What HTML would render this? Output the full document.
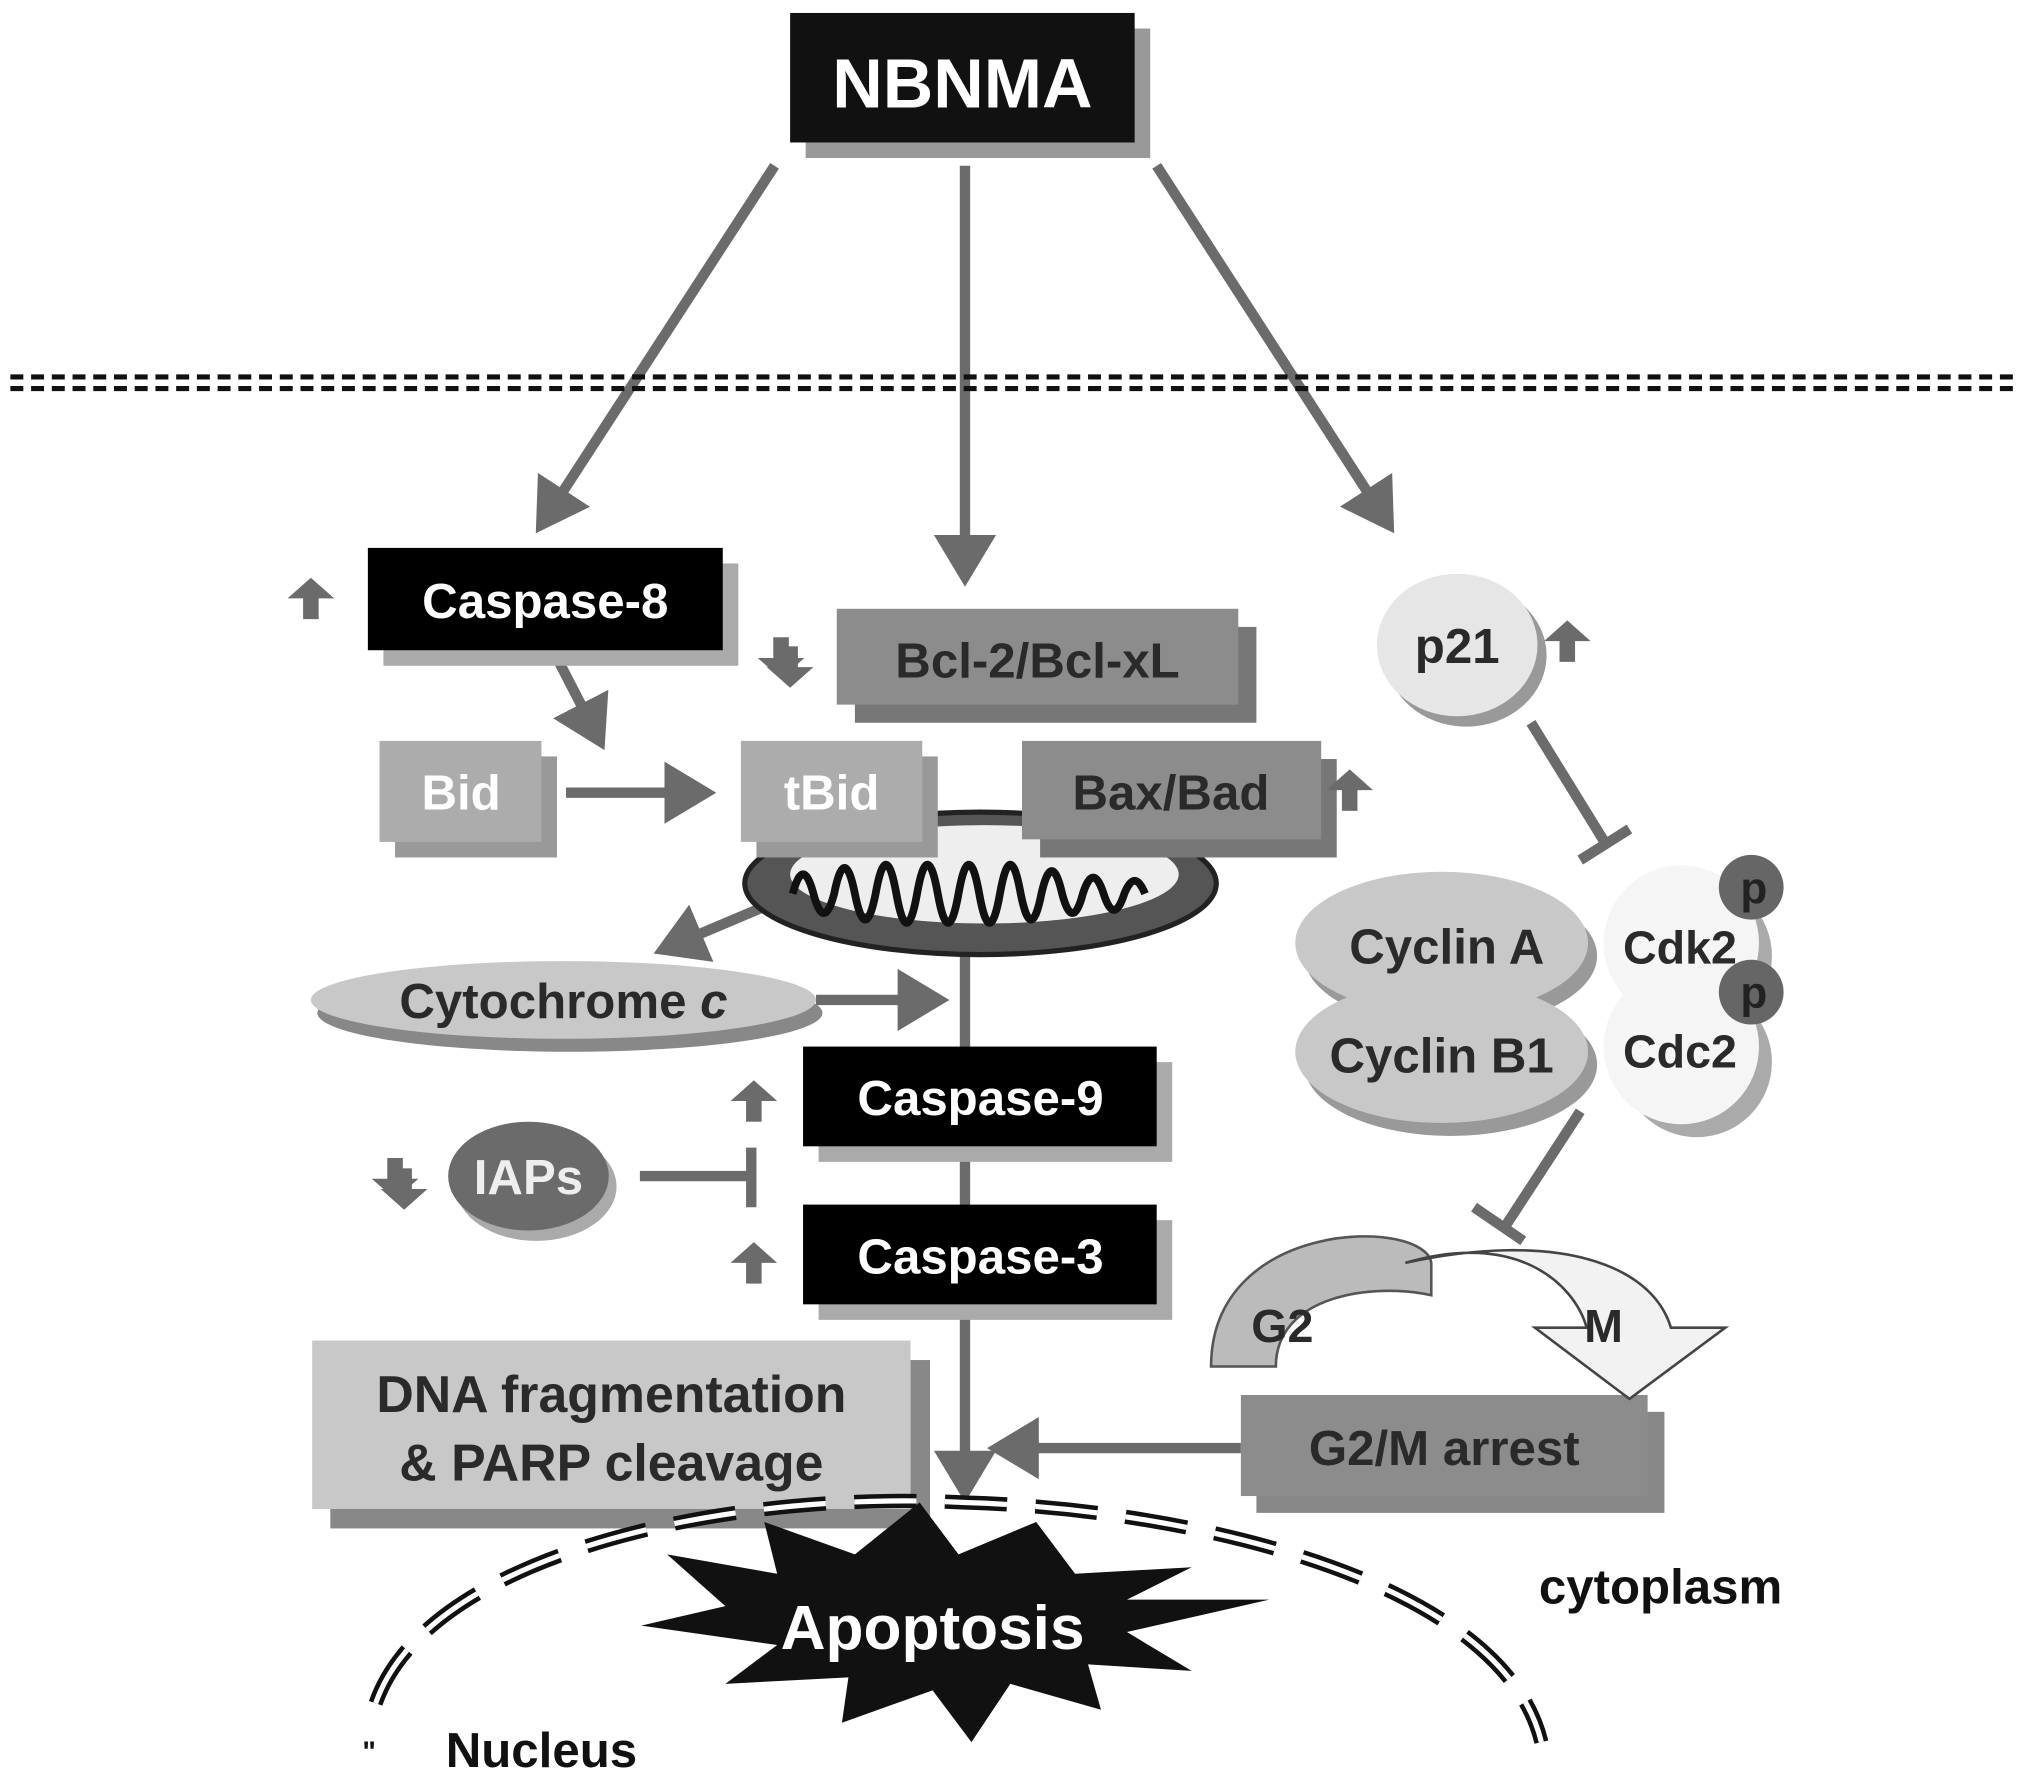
<!DOCTYPE html>
<html><head><meta charset="utf-8"><style>html,body{margin:0;padding:0;background:#fff}svg{display:block}</style></head>
<body>
<svg width="2031" height="1781" viewBox="0 0 1568 1375" xmlns="http://www.w3.org/2000/svg" font-family="Liberation Sans, Arial, sans-serif" font-weight="bold">
<defs>
<marker id="ah" markerWidth="6" markerHeight="6" refX="4" refY="3" orient="auto" markerUnits="strokeWidth"><path d="M0,0 L5,3 L0,6 z" fill="#6b6b6b"/></marker>
<g id="up"><rect x="-6" y="-2" width="12" height="18" fill="#6b6b6b"/><path d="M-18,0 L0,-16 L18,0 z" fill="#6b6b6b"/></g>
</defs>
<rect width="1568" height="1375" fill="#fff"/>
<!-- NBNMA -->
<rect x="622" y="22" width="266" height="100" fill="#999"/>
<rect x="610" y="10" width="266" height="100" fill="#111"/>
<text x="743" y="83" fill="#fff" font-size="54" text-anchor="middle">NBNMA</text>
<!-- main arrows -->
<g stroke="#6b6b6b" stroke-width="8" fill="none" marker-end="url(#ah)">
<line x1="598" y1="128" x2="418" y2="405"/>
<line x1="745" y1="128" x2="745" y2="445"/>
<line x1="893" y1="128" x2="1072" y2="405"/>
<line x1="430" y1="508" x2="463" y2="572"/>
<line x1="437" y1="612" x2="545" y2="612"/>
<line x1="590" y1="700" x2="512" y2="733"/>
<line x1="630" y1="772" x2="725" y2="772"/>
<line x1="745" y1="735" x2="745" y2="1152"/>
<line x1="958" y1="1118" x2="770" y2="1118"/>
</g>
<!-- dashed membrane -->
<g stroke="#111" stroke-width="4" stroke-dasharray="10,6">
<line x1="8" y1="291" x2="1560" y2="291"/>
<line x1="8" y1="300" x2="1560" y2="300"/>
</g>
<!-- Caspase-8 -->
<rect x="296" y="435" width="274" height="79" fill="#aaa"/>
<rect x="284" y="423" width="274" height="79" fill="#000"/>
<text x="421" y="477" fill="#fff" font-size="38" text-anchor="middle">Caspase-8</text>
<use href="#up" x="240" y="462"/>
<!-- down arrow -->
<g transform="translate(610,515) rotate(180)"><use href="#up" fill="#999"/></g>
<g transform="translate(603,508) rotate(180)"><use href="#up"/></g>
<!-- Bcl-2 -->
<rect x="660" y="484" width="310" height="74" fill="#777"/>
<rect x="646" y="470" width="310" height="74" fill="#8c8c8c"/>
<text x="801" y="523" fill="#2a2a2a" font-size="38" text-anchor="middle">Bcl-2/Bcl-xL</text>
<!-- Bid, tBid -->
<rect x="305" y="584" width="125" height="78" fill="#999"/>
<rect x="293" y="572" width="125" height="78" fill="#acacac"/>
<text x="356" y="625" fill="#fff" font-size="38" text-anchor="middle">Bid</text>
<!-- mitochondrion -->
<ellipse cx="757" cy="682" rx="182" ry="55" fill="#555" stroke="#222" stroke-width="4"/>
<ellipse cx="760" cy="675" rx="150" ry="38" fill="#eee"/>
<path d="M612,690 q8,-30 16,0 q8,30 16,0 q8,-40 16,0 q8,40 16,0 q8,-45 16,0 q8,45 16,0 q8,-45 16,0 q8,45 16,0 q8,-45 16,0 q8,45 16,0 q8,-45 16,0 q8,40 16,0 q8,-35 16,0 q8,30 16,0 q8,-25 16,0 q8,25 16,0 q8,-20 16,0" fill="none" stroke="#111" stroke-width="6"/>
<rect x="584" y="584" width="140" height="78" fill="#999"/>
<rect x="572" y="572" width="140" height="78" fill="#acacac"/>
<text x="642" y="625" fill="#fff" font-size="38" text-anchor="middle">tBid</text>
<rect x="803" y="586" width="229" height="76" fill="#777"/>
<rect x="789" y="572" width="231" height="76" fill="#8c8c8c"/>
<text x="904" y="625" fill="#2a2a2a" font-size="38" text-anchor="middle">Bax/Bad</text>
<use href="#up" x="1042" y="610"/>
<!-- Cytochrome c -->
<ellipse cx="440" cy="782" rx="195" ry="30" fill="#888"/>
<ellipse cx="435" cy="772" rx="195" ry="30" fill="#c8c8c8"/>
<text x="435" y="786" fill="#2a2a2a" font-size="38" text-anchor="middle">Cytochrome <tspan font-style="italic">c</tspan></text>
<!-- Caspase-9/3 -->
<rect x="632" y="820" width="273" height="77" fill="#aaa"/>
<rect x="620" y="808" width="273" height="77" fill="#000"/>
<text x="757" y="861" fill="#fff" font-size="38" text-anchor="middle">Caspase-9</text>
<use href="#up" x="582" y="850"/>
<rect x="632" y="942" width="273" height="77" fill="#aaa"/>
<rect x="620" y="930" width="273" height="77" fill="#000"/>
<text x="757" y="983" fill="#fff" font-size="38" text-anchor="middle">Caspase-3</text>
<use href="#up" x="582" y="975"/>
<!-- IAPs -->
<ellipse cx="414" cy="916" rx="62" ry="42" fill="#aaa"/>
<ellipse cx="408" cy="908" rx="62" ry="42" fill="#6b6b6b"/>
<text x="408" y="922" fill="#eee" font-size="38" text-anchor="middle">IAPs</text>
<g transform="translate(312,918) rotate(180)"><use href="#up" fill="#999"/></g>
<g transform="translate(305,910) rotate(180)"><use href="#up"/></g>
<g stroke="#6b6b6b" stroke-width="8"><line x1="494" y1="908" x2="580" y2="908"/><line x1="580" y1="886" x2="580" y2="932"/></g>
<!-- DNA -->
<rect x="255" y="1050" width="463" height="130" fill="#888"/>
<rect x="241" y="1035" width="462" height="130" fill="#c8c8c8"/>
<text x="472" y="1090" fill="#2a2a2a" font-size="40" text-anchor="middle">DNA fragmentation</text>
<text x="472" y="1143" fill="#2a2a2a" font-size="40" text-anchor="middle">&amp; PARP cleavage</text>
<!-- G2/M arrest -->
<rect x="970" y="1090" width="315" height="78" fill="#888"/>
<rect x="958" y="1077" width="314" height="78" fill="#8c8c8c"/>
<text x="1115" y="1131" fill="#2a2a2a" font-size="38" text-anchor="middle">G2/M arrest</text>
<!-- p21 -->
<ellipse cx="1132" cy="506" rx="62" ry="55" fill="#999"/>
<ellipse cx="1125" cy="498" rx="62" ry="55" fill="#e6e6e6"/>
<text x="1125" y="512" fill="#2a2a2a" font-size="38" text-anchor="middle">p21</text>
<use href="#up" x="1210" y="495"/>
<g stroke="#6b6b6b" stroke-width="8"><line x1="1182" y1="558" x2="1240" y2="652"/><line x1="1220" y1="664" x2="1258" y2="640"/></g>
<!-- cyclins -->
<ellipse cx="1310" cy="738" rx="58" ry="58" fill="#aaa"/>
<circle cx="1298" cy="728" r="60" fill="#f5f5f5"/>
<ellipse cx="1310" cy="820" rx="58" ry="58" fill="#aaa"/>
<circle cx="1298" cy="808" r="60" fill="#f5f5f5"/>
<ellipse cx="1120" cy="738" rx="113" ry="55" fill="#999"/>
<ellipse cx="1113" cy="728" rx="113" ry="55" fill="#c8c8c8"/>
<ellipse cx="1120" cy="822" rx="113" ry="55" fill="#999"/>
<ellipse cx="1113" cy="812" rx="113" ry="55" fill="#c8c8c8"/>
<text x="1117" y="744" fill="#2a2a2a" font-size="38" text-anchor="middle">Cyclin A</text>
<text x="1113" y="828" fill="#2a2a2a" font-size="38" text-anchor="middle">Cyclin B1</text>
<text x="1297" y="744" fill="#2a2a2a" font-size="36" text-anchor="middle">Cdk2</text>
<text x="1297" y="824" fill="#2a2a2a" font-size="36" text-anchor="middle">Cdc2</text>
<circle cx="1352" cy="685" r="25" fill="#666"/><text x="1354" y="697" fill="#222" font-size="34" text-anchor="middle">p</text>
<circle cx="1352" cy="766" r="25" fill="#666"/><text x="1354" y="778" fill="#222" font-size="34" text-anchor="middle">p</text>
<g stroke="#6b6b6b" stroke-width="8"><line x1="1220" y1="858" x2="1160" y2="950"/><line x1="1138" y1="932" x2="1176" y2="958"/></g>
<!-- G2->M arc -->
<path d="M935,1055 C935,940 1100,940 1105,975 L1105,1000 C1060,990 985,1000 985,1055 z" fill="#bbb" stroke="#555" stroke-width="2"/>
<path d="M1085,975 C1170,950 1215,990 1225,1025 L1185,1025 L1258,1080 L1332,1025 L1290,1025 C1275,975 1200,950 1085,975 z" fill="#f2f2f2" stroke="#444" stroke-width="2"/>
<text x="990" y="1036" fill="#2a2a2a" font-size="36" text-anchor="middle">G2</text>
<text x="1238" y="1036" fill="#2a2a2a" font-size="36" text-anchor="middle">M</text>
<!-- nucleus envelope -->
<path d="M290,1315 C330,1200 560,1150 745,1160 C920,1165 1160,1220 1190,1345" fill="none" stroke="#111" stroke-width="11" stroke-dasharray="48,22"/>
<path d="M290,1315 C330,1200 560,1150 745,1160 C920,1165 1160,1220 1190,1345" fill="none" stroke="#fff" stroke-width="4" stroke-dasharray="48,22"/>
<!-- apoptosis star -->
<polygon fill="#111" points="495,1255 560,1240 515,1200 600,1215 590,1175 660,1200 710,1160 740,1200 800,1175 830,1215 920,1210 870,1235 980,1235 870,1260 920,1290 840,1285 850,1320 780,1300 750,1345 720,1305 650,1330 655,1295 560,1300 600,1270"/>
<text x="720" y="1273" fill="#fff" font-size="48" text-anchor="middle">Apoptosis</text>
<text x="1282" y="1238" fill="#111" font-size="38" text-anchor="middle">cytoplasm</text>
<text x="418" y="1364" fill="#111" font-size="38" text-anchor="middle">Nucleus</text>
<text x="285" y="1360" fill="#111" font-size="22" text-anchor="middle">"</text>
</svg>
</body></html>
